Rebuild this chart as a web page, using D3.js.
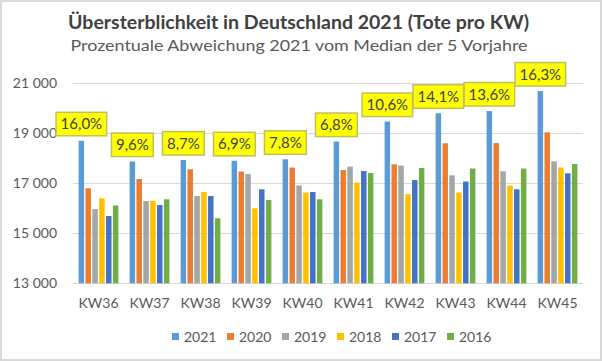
<!DOCTYPE html>
<html><head><meta charset="utf-8">
<script src="https://cdn.jsdelivr.net/npm/d3@7"></script>
<style>body{margin:0;background:#fff}svg{display:block}text{font-family:Lato,"Open Sans",sans-serif}</style>
</head><body><svg id="c" width="602" height="361"></svg>
<script>
const weeks = ["KW36","KW37","KW38","KW39","KW40","KW41","KW42","KW43","KW44","KW45"];
const years = ["2021","2020","2019","2018","2017","2016"];
const v2021 = [18700,17870,17930,17900,17960,18670,19470,19800,19890,20690];
const v2020 = [16800,17170,17560,17470,17630,17530,17760,18600,18610,19040];
const v2019 = [15970,16290,16490,17370,16910,17670,17710,17320,17480,17880];
const v2018 = [16400,16300,16650,16000,16630,17030,16560,16630,16910,17630];
const v2017 = [15690,16130,16490,16760,16650,17490,17130,17070,16760,17400];
const v2016 = [16110,16360,15600,16330,16360,17410,17610,17590,17590,17770];
const pctLabels = ["16,0%","9,6%","8,7%","6,9%","7,8%","6,8%","10,6%","14,1%","13,6%","16,3%"];
const yTicks = [13000,15000,17000,19000,21000];
const colors = ["#5B9BD5","#ED7D31","#A5A5A5","#FFC000","#4472C4","#70AD47"];
const series = [v2021,v2020,v2019,v2018,v2017,v2016];

const svg = d3.select("#c");
svg.append("rect").attr("x",1).attr("y",1).attr("width",600).attr("height",359)
  .attr("fill","#fff").attr("stroke","#d9d9d9").attr("stroke-width",2);

const x0 = d3.scaleBand().domain(weeks).range([73,583]).paddingInner(0.22).paddingOuter(0.11);
const x1 = d3.scaleBand().domain(years).range([0,x0.bandwidth()]).paddingInner(0.2).paddingOuter(0);
const y = d3.scaleLinear().domain([13000,21000]).range([283.3,83.3]);

// gridlines
svg.append("g").selectAll("line").data(yTicks).join("line")
  .attr("x1",73).attr("x2",583).attr("y1",d=>Math.round(y(d))+0.5).attr("y2",d=>Math.round(y(d))+0.5)
  .attr("stroke","#d9d9d9").attr("stroke-width",1);

// y axis labels
const yAxis = d3.axisLeft(y).tickValues(yTicks).tickSize(0).tickPadding(0).tickFormat(d=>d3.format(",")(d).replace(","," "));
const yg = svg.append("g").attr("transform","translate(57,0)").call(yAxis);
yg.select(".domain").remove();
yg.selectAll("text").attr("fill","#595959").style("font-size","14px").style("font-family","Lato,sans-serif");

// x axis labels
const xAxis = d3.axisBottom(x0).tickSize(0).tickPadding(0);
const xg = svg.append("g").attr("transform","translate(0,298)").call(xAxis);
xg.select(".domain").remove();
xg.selectAll("text").attr("dy",null).attr("y",10).attr("fill","#595959").style("font-size","14px").style("font-family","Lato,sans-serif");

// bars
const groups = svg.append("g").selectAll("g").data(weeks).join("g")
  .attr("transform",d=>`translate(${x0(d)},0)`);
groups.selectAll("rect").data((d,i)=>years.map((yr,j)=>({yr,j,v:series[j][i]}))).join("rect")
  .attr("x",d=>x1(d.yr)).attr("width",x1.bandwidth())
  .attr("y",d=>y(d.v)).attr("height",d=>y(13000)-y(d.v))
  .attr("fill",d=>colors[d.j]);

// percent labels
weeks.forEach((w,i)=>{
  const cx = x0(w)+x1("2021")+x1.bandwidth()/2;
  const bottom = y(v2021[i]) - 5;
  const g = svg.append("g");
  const t = g.append("text").attr("x",cx).attr("y",bottom-6.5).attr("text-anchor","middle")
    .attr("fill","#404040").style("font-size","15px").text(pctLabels[i]);
  const bw = t.node().getBBox().width + 9;
  g.insert("rect","text").attr("x",cx-bw/2).attr("y",bottom-23.5).attr("width",bw).attr("height",23.5)
    .attr("fill","#FFFF00").attr("stroke","#BFBF60").attr("stroke-width",1.5);
});

// titles
svg.append("text").attr("x",298.5).attr("y",28.5).attr("text-anchor","middle")
  .attr("fill","#404040").style("font-size","18px").style("font-weight","bold")
  .attr("textLength",461).attr("lengthAdjust","spacingAndGlyphs")
  .text("Übersterblichkeit  in Deutschland  2021 (Tote pro KW)");
svg.append("text").attr("x",299).attr("y",51).attr("text-anchor","middle")
  .attr("fill","#595959").style("font-size","16px")
  .attr("textLength",457).attr("lengthAdjust","spacingAndGlyphs")
  .text("Prozentuale Abweichung 2021 vom Median der 5 Vorjahre");

// legend
const lg = svg.append("g").selectAll("g").data(years).join("g")
  .attr("transform",(d,i)=>`translate(${172+i*55},336.5)`);
lg.append("rect").attr("x",0).attr("y",-3.5).attr("width",7).attr("height",7).attr("fill",(d,i)=>colors[i]);
lg.append("text").attr("x",12).attr("y",5).attr("fill","#595959").style("font-size","14px").text(d=>d);
</script></body></html>
